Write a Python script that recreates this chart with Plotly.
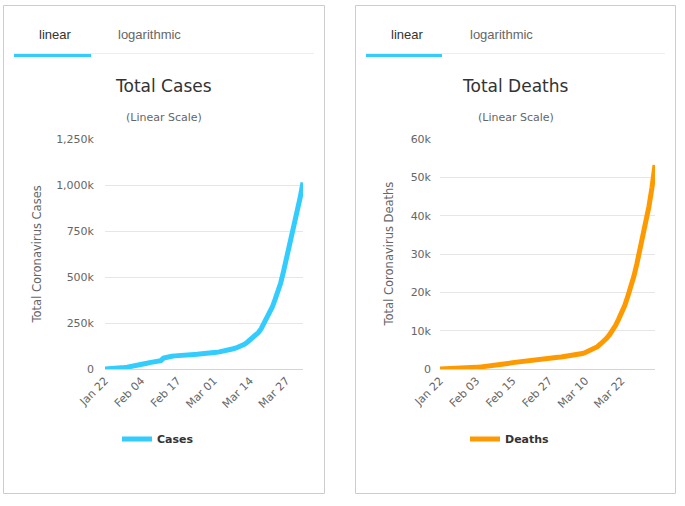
import plotly.graph_objects as go

W, H = 685, 506

dates = ["Jan 22","Jan 23","Jan 24","Jan 25","Jan 26","Jan 27","Jan 28","Jan 29","Jan 30","Jan 31",
         "Feb 01","Feb 02","Feb 03","Feb 04","Feb 05","Feb 06","Feb 07","Feb 08","Feb 09","Feb 10",
         "Feb 11","Feb 12","Feb 13","Feb 14","Feb 15","Feb 16","Feb 17","Feb 18","Feb 19","Feb 20",
         "Feb 21","Feb 22","Feb 23","Feb 24","Feb 25","Feb 26","Feb 27","Feb 28","Feb 29","Mar 01",
         "Mar 02","Mar 03","Mar 04","Mar 05","Mar 06","Mar 07","Mar 08","Mar 09","Mar 10","Mar 11",
         "Mar 12","Mar 13","Mar 14","Mar 15","Mar 16","Mar 17","Mar 18","Mar 19","Mar 20","Mar 21",
         "Mar 22","Mar 23","Mar 24","Mar 25","Mar 26","Mar 27","Mar 28","Mar 29","Mar 30","Mar 31",
         "Apr 01","Apr 02"]

cases = [580, 845, 1317, 2015, 2800, 4581, 6058, 7813, 9823, 11950,
         14553, 17391, 20630, 24545, 28266, 31439, 34876, 37552, 40553, 43099,
         45134, 59287, 64438, 67100, 69197, 71329, 73332, 75184, 75700, 76677,
         77673, 78651, 79205, 80087, 80828, 81820, 83112, 84615, 86604, 88585,
         90443, 93016, 95314, 98425, 102050, 106099, 109991, 114381, 118948, 126214,
         134576, 145483, 156653, 169593, 182490, 198238, 218822, 246261, 275869, 308463,
         336953, 378235, 418045, 467653, 529591, 593291, 660706, 720117, 782365, 857487,
         932605, 1013157]

deaths = [17, 25, 41, 56, 80, 106, 132, 170, 213, 259,
          304, 362, 426, 492, 565, 638, 724, 813, 910, 1018,
          1115, 1261, 1383, 1526, 1669, 1775, 1873, 2009, 2126, 2247,
          2360, 2460, 2618, 2699, 2763, 2800, 2858, 2923, 2977, 3050,
          3117, 3202, 3285, 3387, 3494, 3599, 3827, 4025, 4296, 4628,
          4981, 5428, 5833, 6520, 7162, 7979, 8959, 10033, 11400, 13015,
          14674, 16532, 18934, 21309, 24107, 27381, 30867, 34050, 37851, 42403,
          47320, 53190]

cases_ticks = [0, 250000, 500000, 750000, 1000000, 1250000]
cases_ticktext = ["0", "250k", "500k", "750k", "1,000k", "1,250k"]
deaths_ticks = [0, 10000, 20000, 30000, 40000, 50000, 60000]
deaths_ticktext = ["0", "10k", "20k", "30k", "40k", "50k", "60k"]
cases_xticks = ["Jan 22", "Feb 04", "Feb 17", "Mar 01", "Mar 14", "Mar 27"]
deaths_xticks = ["Jan 22", "Feb 03", "Feb 15", "Feb 27", "Mar 10", "Mar 22"]

CASE_COLOR = "#33ccff"
DEATH_COLOR = "#ff9900"
FONT = "DejaVu Sans"


def px(x):
    return x / W


def py(y):
    return 1 - y / H


fig = go.Figure()
fig.add_trace(go.Scatter(x=dates, y=cases, mode="lines", name="Cases",
                         line=dict(color=CASE_COLOR, width=5),
                         xaxis="x", yaxis="y", legend="legend", hoverinfo="skip"))
fig.add_trace(go.Scatter(x=dates, y=deaths, mode="lines", name="Deaths",
                         line=dict(color=DEATH_COLOR, width=5),
                         xaxis="x2", yaxis="y2", legend="legend2", hoverinfo="skip"))

axis_common = dict(showgrid=False, zeroline=False, showline=True, linecolor="#ccd6eb",
                   linewidth=1, ticks="", tickangle=-45, type="category",
                   tickfont=dict(family=FONT, size=11, color="#666666"), fixedrange=True)
yaxis_common = dict(showgrid=True, gridcolor="#e6e6e6", gridwidth=1, zeroline=False,
                    showline=False, ticks="", tickfont=dict(family=FONT, size=11, color="#666666"),
                    fixedrange=True)

fig.update_layout(
    width=W, height=H, autosize=False,
    margin=dict(l=0, r=0, t=0, b=0, autoexpand=False),
    paper_bgcolor="white", plot_bgcolor="white",
    font=dict(family=FONT, color="#333333"),
    xaxis=dict(domain=[px(105), px(303)], anchor="y", range=[0, 71],
               tickvals=cases_xticks, ticktext=cases_xticks, **axis_common),
    yaxis=dict(domain=[py(369), py(139)], anchor="x", range=[0, 1250000],
               tickvals=cases_ticks, ticktext=cases_ticktext, ticklabelstandoff=10, **yaxis_common),
    xaxis2=dict(domain=[px(440), px(655)], anchor="y2", range=[0, 71],
                tickvals=deaths_xticks, ticktext=deaths_xticks, **axis_common),
    yaxis2=dict(domain=[py(369), py(139)], anchor="x2", range=[0, 60000],
                tickvals=deaths_ticks, ticktext=deaths_ticktext, ticklabelstandoff=8, **yaxis_common),
    legend=dict(x=px(117), y=py(439), xanchor="left", yanchor="middle", orientation="h",
                font=dict(family=FONT, size=11, color="#333333", weight="bold"),
                bgcolor="rgba(0,0,0,0)", itemwidth=30),
    legend2=dict(x=px(465), y=py(439), xanchor="left", yanchor="middle", orientation="h",
                 font=dict(family=FONT, size=11, color="#333333", weight="bold"),
                 bgcolor="rgba(0,0,0,0)", itemwidth=30),
    showlegend=True,
)

shapes = []
annotations = []
panels = [
    dict(x0=3.5, x1=324.5, tab_x0=14, tab_x1=314, blue_x1=91, lin=55, log=149,
         title="Total Cases", tcx=163.5, ylabel="Total Coronavirus Cases", ylx=36),
    dict(x0=355.5, x1=675.5, tab_x0=366, tab_x1=665, blue_x1=442, lin=407, log=501,
         title="Total Deaths", tcx=515.5, ylabel="Total Coronavirus Deaths", ylx=388),
]
for p in panels:
    shapes.append(dict(type="rect", xref="paper", yref="paper",
                       x0=px(p["x0"]), x1=px(p["x1"]), y0=py(493.5), y1=py(5.5),
                       line=dict(color="#cccccc", width=1), fillcolor="rgba(0,0,0,0)", layer="below"))
    shapes.append(dict(type="line", xref="paper", yref="paper",
                       x0=px(p["tab_x0"]), x1=px(p["tab_x1"]), y0=py(53.5), y1=py(53.5),
                       line=dict(color="#eeeeee", width=1)))
    shapes.append(dict(type="rect", xref="paper", yref="paper",
                       x0=px(p["tab_x0"]), x1=px(p["blue_x1"]), y0=py(57), y1=py(54),
                       line=dict(width=0), fillcolor=CASE_COLOR))
    annotations.append(dict(text="linear", x=px(p["lin"]), y=py(34.5), xref="paper", yref="paper",
                            showarrow=False, xanchor="center", yanchor="middle",
                            font=dict(family="Liberation Sans", size=13, color="#333333")))
    annotations.append(dict(text="logarithmic", x=px(p["log"]), y=py(34.5), xref="paper", yref="paper",
                            showarrow=False, xanchor="center", yanchor="middle",
                            font=dict(family="Liberation Sans", size=13, color="#666666")))
    annotations.append(dict(text=p["title"], x=px(p["tcx"]), y=py(86), xref="paper", yref="paper",
                            showarrow=False, xanchor="center", yanchor="middle",
                            font=dict(family=FONT, size=17, color="#333333")))
    annotations.append(dict(text="(Linear Scale)", x=px(p["tcx"]), y=py(117), xref="paper", yref="paper",
                            showarrow=False, xanchor="center", yanchor="middle",
                            font=dict(family=FONT, size=11, color="#666666")))
    annotations.append(dict(text=p["ylabel"], x=px(p["ylx"]), y=py(254.5), xref="paper", yref="paper",
                            showarrow=False, xanchor="center", yanchor="middle", textangle=-90,
                            font=dict(family=FONT, size=11.5, color="#666666")))

fig.update_layout(shapes=shapes, annotations=annotations)
fig.write_html("out.html", config={"displayModeBar": False},
               post_script="document.body.style.margin='0px';")
